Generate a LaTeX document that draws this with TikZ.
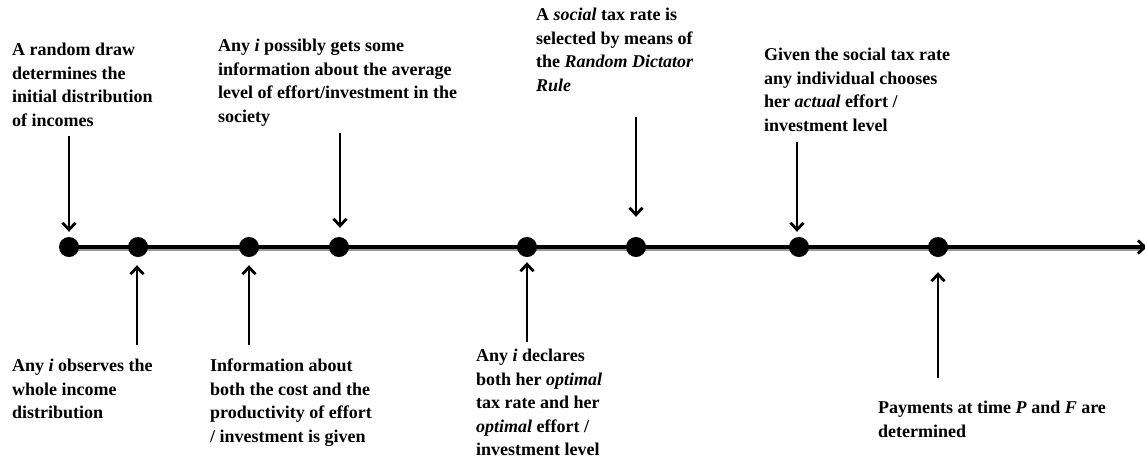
\documentclass[tikz,border=0pt]{standalone}
\usepackage{fontspec}
\setmainfont{Liberation Serif}
\usetikzlibrary{arrows.meta}
\begin{document}
\begin{tikzpicture}[x=1pt,y=-1pt,
 ev/.style={circle,fill=black,inner sep=0pt,minimum size=20pt},
 lbl/.style={anchor=north west,inner sep=0pt,align=left,font=\bfseries\fontsize{18}{23.5}\selectfont},
 arr/.style={line width=2.8pt,-{Straight Barb[length=7pt,width=13pt,line width=2.8pt]}},
 axis/.style={line width=3.2pt,-{Straight Barb[length=7pt,width=13pt,line width=2.8pt]}}]
\useasboundingbox (0,0) rectangle (1145,459);
% timeline
\coordinate (t0) at (60,247);
\coordinate (t1) at (1147,247);
\coordinate (s0) at (60,249.5);
\coordinate (s1) at (1140,249.5);
\draw[line width=3pt,black!40] (s0) -- (s1);
\draw[axis] (t0) -- (t1);
\node[ev] (d1) at (69,247) {};
\node[ev] (d2) at (138,247) {};
\node[ev] (d3) at (249,247) {};
\node[ev] (d4) at (339,247) {};
\node[ev] (d5) at (527,247) {};
\node[ev] (d6) at (636,247) {};
\node[ev] (d7) at (799,247) {};
\node[ev] (d8) at (938,247) {};
% top labels
\node[lbl] (l1) at (12,43) {A random draw\\determines the\\initial distribution\\of incomes};
\node[lbl] (l4) at (218,39) {Any \textit{i} possibly gets some\\information about the average\\level of effort/investment in the\\society};
\node[lbl] (l6) at (536,8) {A \textit{social} tax rate is\\selected by means of\\the \textit{Random Dictator}\\\textit{Rule}};
\node[lbl] (l7) at (764,48) {Given the social tax rate\\any individual chooses\\her \textit{actual} effort /\\investment level};
% bottom labels
\node[lbl] (l2) at (12,359) {Any \textit{i} observes the\\whole income\\distribution};
\node[lbl] (l3) at (210,359) {Information about\\both the cost and the\\productivity of effort\\/ investment is given};
\node[lbl] (l5) at (476,349) {Any \textit{i} declares\\both her \textit{optimal}\\tax rate and her\\\textit{optimal} effort /\\investment level};
\node[lbl] (l8) at (878,401) {Payments at time \textit{P} and \textit{F} are\\determined};
% arrow tails
\coordinate (a1) at (69,136);
\coordinate (a4) at (340,133);
\coordinate (a6) at (636,117);
\coordinate (a7) at (797,142);
\coordinate (a2) at (137,345);
\coordinate (a3) at (249,345);
\coordinate (a5) at (527,342);
\coordinate (a8) at (938,378);
\draw[arr,shorten >=5pt] (a1) -- (a1 |- d1.north);
\draw[arr,shorten >=9pt] (a4) -- (a4 |- d4.north);
\draw[arr,shorten >=20pt] (a6) -- (a6 |- d6.north);
\draw[arr,shorten >=5pt] (a7) -- (a7 |- d7.north);
\draw[arr,shorten >=8pt] (a2) -- (a2 |- d2.south);
\draw[arr,shorten >=8pt] (a3) -- (a3 |- d3.south);
\draw[arr,shorten >=5pt] (a5) -- (a5 |- d5.south);
\draw[arr,shorten >=15pt] (a8) -- (a8 |- d8.south);
\end{tikzpicture}
\end{document}
